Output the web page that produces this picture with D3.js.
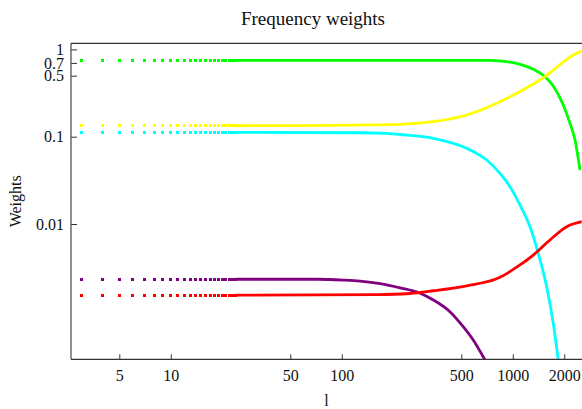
<!DOCTYPE html>
<html>
<head>
<meta charset="utf-8">
<script src="https://cdn.jsdelivr.net/npm/d3@7"></script>
<style>
  body { margin: 0; background: #fff; }
  svg { display: block; font-family: "Liberation Serif", "DejaVu Serif", serif; }
</style>
</head>
<body>
<div id="chart"></div>
<script>
// tick labels
const xTicks = [5, 10, 50, 100, 500, 1000, 2000];
const yTicks = [0.01, 0.1, 0.5, 0.7, 1];

// separate dots at low multipoles
const dotL = [3, 4, 5, 6, 7, 8, 9, 10, 11, 12, 13, 14, 15, 16, 17, 18, 19, 20, 21, 22, 23, 24];
const dotLevels = [0.75, 0.1336, 0.1123, 0.00233, 0.00153]; // green, yellow, cyan, purple, red

// curves, l >= 24
const greenL = [24, 300, 736, 842, 1054, 1318, 1543, 1725, 1974, 2160, 2312, 2472];
const greenW = [0.75, 0.75, 0.749, 0.736, 0.693, 0.5916, 0.4868, 0.3809, 0.2307, 0.1424, 0.0917, 0.0416];

const yellowL = [24, 60, 120, 190, 219, 343, 538, 842, 1054, 1318, 1543, 1806, 2067, 2259, 2529];
const yellowW = [0.1336, 0.134, 0.136, 0.1375, 0.1387, 0.1485, 0.1773, 0.2517, 0.3142, 0.4016, 0.4868, 0.6237, 0.7701, 0.8628, 0.9587];

const cyanL = [24, 124, 180, 219, 343, 538, 704, 842, 963, 1127, 1261, 1410, 1579, 1725, 1846];
const cyanW = [0.1123, 0.111, 0.1094, 0.106, 0.0959, 0.0736, 0.0541, 0.0381, 0.0268, 0.01513, 0.00931, 0.00462, 0.00191, 0.000729, 0.000277];

const purpleL = [24, 72, 102, 128, 168, 219, 287, 343, 429, 513, 587, 688];
const purpleW = [0.00233, 0.00233, 0.00228, 0.00222, 0.00208, 0.00186, 0.00161, 0.00135, 0.000989, 0.000666, 0.000469, 0.000277];

const redL = [24, 160, 250, 343, 538, 842, 1054, 1318, 1650, 2067, 2529];
const redW = [0.00153, 0.00155, 0.0016, 0.00172, 0.00196, 0.00245, 0.0032, 0.00441, 0.00656, 0.00931, 0.01062];

const seriesColors = ['#00ff00', '#ffff00', '#00ffff', '#800080', '#ff0000'];
const seriesL = [greenL, yellowL, cyanL, purpleL, redL];
const seriesW = [greenW, yellowW, cyanW, purpleW, redW];

const width = 582, height = 409;
const plotLeft = 71, plotRight = 582, plotTop = 43.3, plotBottom = 359.3;

const svg = d3.select('#chart').append('svg')
  .attr('width', width)
  .attr('height', height);

const x = d3.scaleLog().domain([2.609, 2540]).range([plotLeft, plotRight]);
const y = d3.scaleLog().domain([0.000282, 1.175]).range([plotBottom, plotTop]);

svg.append('clipPath').attr('id', 'plot')
  .append('rect')
  .attr('x', plotLeft).attr('y', plotTop)
  .attr('width', plotRight - plotLeft).attr('height', plotBottom - plotTop);

const g = svg.append('g').attr('clip-path', 'url(#plot)');

const line = d3.line()
  .x(d => x(d[0]))
  .y(d => y(d[1]))
  .curve(d3.curveMonotoneX);

seriesColors.forEach((c, i) => {
  // dots
  g.append('g')
    .selectAll('rect')
    .data(dotL)
    .enter().append('rect')
    .attr('x', d => Math.round(x(d) - 1.5))
    .attr('y', Math.round(y(dotLevels[i]) - 1.5))
    .attr('width', 3)
    .attr('height', 3)
    .attr('shape-rendering', 'crispEdges')
    .attr('fill', c);

  // dense part, drawn as a line
  g.append('path')
    .datum(d3.zip(seriesL[i], seriesW[i]))
    .attr('d', line)
    .attr('fill', 'none')
    .attr('stroke', c)
    .attr('stroke-width', 2.8);
});

// axes
const xAxis = svg.append('g')
  .attr('transform', `translate(0,${plotBottom})`)
  .call(d3.axisBottom(x).tickValues(xTicks).tickFormat(d3.format('d'))
    .tickSize(-5).tickSizeOuter(0).tickPadding(10));

const yAxis = svg.append('g')
  .attr('transform', `translate(${plotLeft},0)`)
  .call(d3.axisLeft(y).tickValues(yTicks).tickFormat(d => String(d))
    .tickSize(-6).tickSizeOuter(0).tickPadding(7));

[xAxis, yAxis].forEach(a => {
  a.select('.domain').remove();
  a.selectAll('line').attr('stroke', '#333');
  a.selectAll('text')
    .attr('fill', '#111')
    .attr('font-size', 16)
    .attr('font-family', '"Liberation Serif", serif');
});

// frame: left, bottom, top
svg.append('line').attr('x1', plotLeft).attr('x2', plotLeft).attr('y1', plotTop).attr('y2', plotBottom)
  .attr('stroke', '#555').attr('stroke-width', 1.3);
svg.append('line').attr('x1', plotLeft).attr('x2', plotRight).attr('y1', plotBottom).attr('y2', plotBottom)
  .attr('stroke', '#333').attr('stroke-width', 1.2);
svg.append('line').attr('x1', plotLeft).attr('x2', plotRight).attr('y1', plotTop).attr('y2', plotTop)
  .attr('stroke', '#333').attr('stroke-width', 1.2);

// title and labels
svg.append('text')
  .attr('x', 313).attr('y', 25)
  .attr('text-anchor', 'middle')
  .attr('font-size', 19)
  .attr('fill', '#111')
  .text('Frequency weights');

svg.append('text')
  .attr('x', (plotLeft + plotRight) / 2).attr('y', 406)
  .attr('text-anchor', 'middle')
  .attr('font-size', 16)
  .attr('fill', '#111')
  .text('l');

svg.append('text')
  .attr('transform', `translate(21,${(plotTop + plotBottom) / 2}) rotate(-90)`)
  .attr('text-anchor', 'middle')
  .attr('font-size', 16)
  .attr('fill', '#111')
  .text('Weights');
</script>
</body>
</html>
